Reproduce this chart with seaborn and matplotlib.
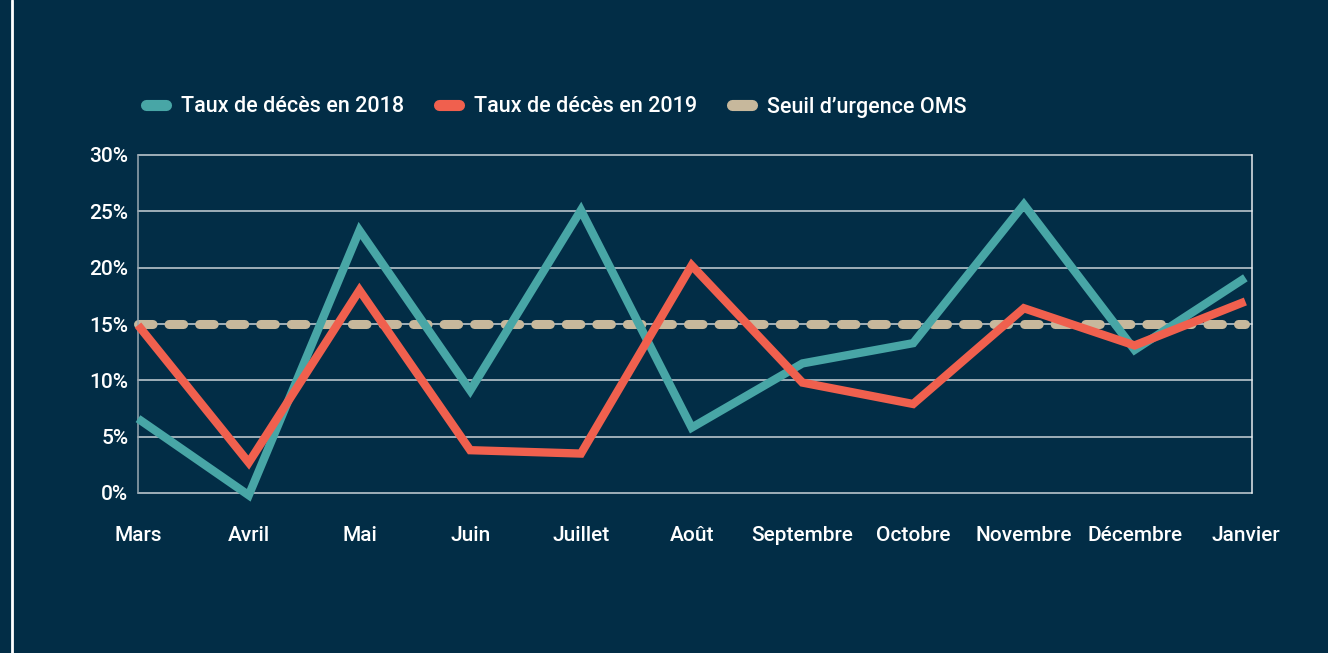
import matplotlib
matplotlib.use("Agg")
import matplotlib.pyplot as plt
import seaborn as sns
import pandas as pd
from matplotlib.lines import Line2D
from matplotlib.ticker import FuncFormatter

# Données
mois = ["Mars", "Avril", "Mai", "Juin", "Juillet", "Août", "Septembre",
        "Octobre", "Novembre", "Décembre", "Janvier"]
taux_2018 = [6.6, -0.2, 23.3, 9.1, 25.1, 5.8, 11.5, 13.3, 25.6, 12.7, 19.1]
taux_2019 = [14.9, 2.7, 18.0, 3.8, 3.5, 20.2, 9.8, 7.9, 16.4, 13.1, 17.0]
seuil_oms = [15] * len(mois)

fond = "#022d46"
teal = "#48a6a6"
rouge = "#f0604e"
beige = "#c7b89c"

sns.set_theme(style="dark")
plt.rcParams["font.family"] = ["Roboto", "DejaVu Sans"]
plt.rcParams["font.weight"] = "medium"
plt.rcParams["lines.scale_dashes"] = False

fig = plt.figure(figsize=(13.28, 6.53), dpi=100, facecolor=fond)
ax = fig.add_axes([138 / 1328, 1 - 493 / 653, (1252 - 138) / 1328, (493 - 155) / 653])
ax.set_facecolor(fond)

df = pd.DataFrame({"Mois": mois, "2018": taux_2018, "2019": taux_2019, "OMS": seuil_oms})

# Grille horizontale
for v in range(0, 31, 5):
    ax.axhline(v, color="#c9d2d8", lw=1.1, zorder=0.5)

sns.lineplot(data=df, x="Mois", y="OMS", ax=ax, color=beige, lw=6.5,
             dashes=False, sort=False, zorder=2)
ax.lines[-1].set_dashes((10.5, 11.5))
ax.lines[-1].set_dash_capstyle("round")
sns.lineplot(data=df, x="Mois", y="2018", ax=ax, color=teal, lw=6,
             sort=False, zorder=3)
sns.lineplot(data=df, x="Mois", y="2019", ax=ax, color=rouge, lw=6,
             sort=False, zorder=4)
for ln in ax.lines[-2:]:
    ln.set_solid_capstyle("butt")
    ln.set_solid_joinstyle("miter")

ax.set_xlim(0, 10.06)
ax.set_ylim(0, 30)
for ln in ax.lines:
    ln.set_clip_on(False)

ax.set_yticks(range(0, 31, 5))
ax.yaxis.set_major_formatter(FuncFormatter(lambda v, p: f"{v:.0f}%"))
ax.tick_params(axis="y", colors="white", labelsize=15, pad=7, length=0)
ax.tick_params(axis="x", colors="white", labelsize=15, pad=24, length=0)
for t in ax.get_xticklabels() + ax.get_yticklabels():
    t.set_fontweight("medium")
ax.set_xlabel("")
ax.set_ylabel("")

for side in ["top", "bottom"]:
    ax.spines[side].set_visible(False)
ax.spines["left"].set_color("#9aa8b2")
ax.spines["right"].set_color("#e6eaee")
for side in ["left", "right"]:
    ax.spines[side].set_visible(True)
    ax.spines[side].set_linewidth(1.1)

# Légende
handles = [
    Line2D([], [], color=teal, lw=8, solid_capstyle="round"),
    Line2D([], [], color=rouge, lw=8, solid_capstyle="round"),
    Line2D([], [], color=beige, lw=8, solid_capstyle="round"),
]
labels = ["Taux de décès en 2018", "Taux de décès en 2019", "Seuil d’urgence OMS"]
fig.legend(handles, labels, loc="center left", bbox_to_anchor=(145.5 / 1328, 1 - 107 / 653),
           ncol=3, frameon=False, labelcolor="white",
           prop={"weight": "medium", "size": 15.5},
           borderpad=0, borderaxespad=0,
           handlelength=0.95, handletextpad=0.7, columnspacing=1.6)

# Trait vertical blanc à gauche
fig.add_artist(Line2D([12 / 1328, 12 / 1328], [0, 1], color="white", lw=2,
                      transform=fig.transFigure))

fig.savefig("out.png", dpi=100, facecolor=fond)
